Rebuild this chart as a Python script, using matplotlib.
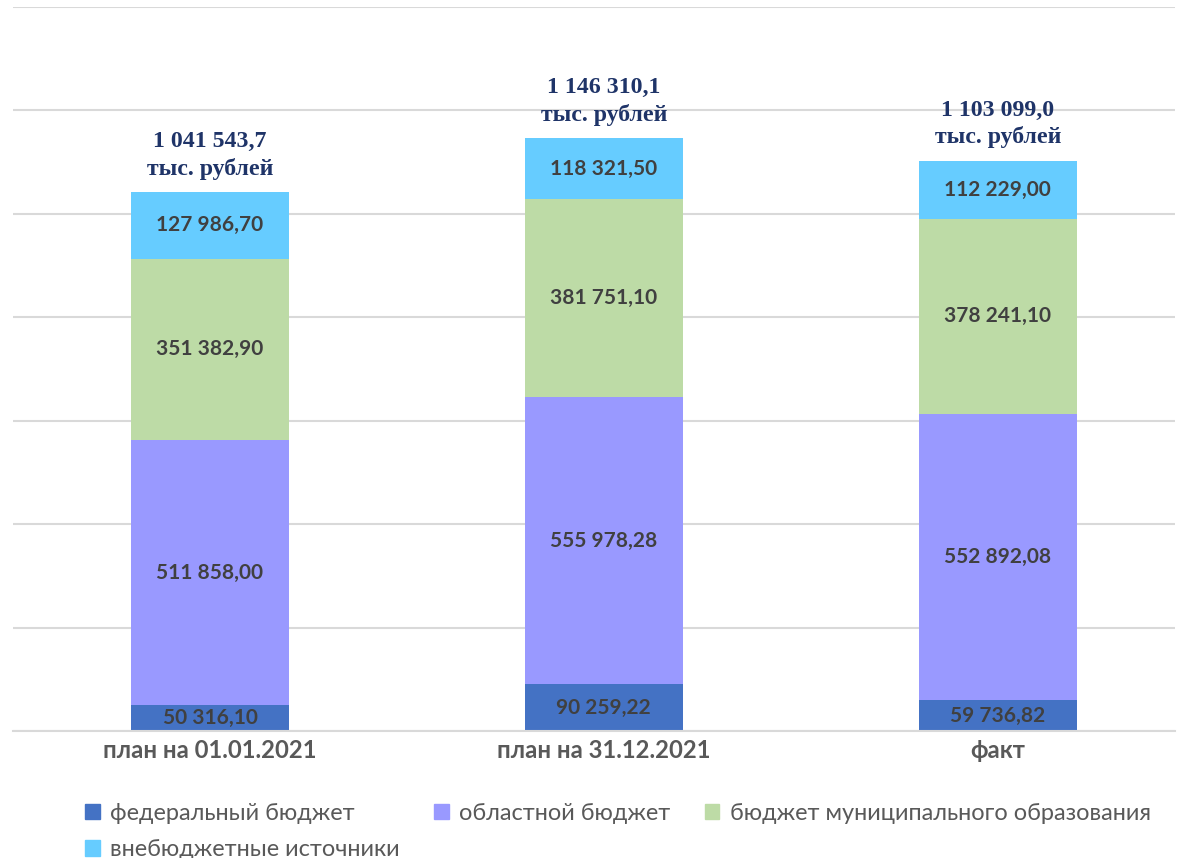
import matplotlib.pyplot as plt
from matplotlib.patches import Patch

categories = ["план на 01.01.2021", "план на 31.12.2021", "факт"]
federal = [50316.10, 90259.22, 59736.82]
oblast = [511858.00, 555978.28, 552892.08]
municipal = [351382.90, 381751.10, 378241.10]
offbudget = [127986.70, 118321.50, 112229.00]
totals = ["1 041 543,7", "1 146 310,1", "1 103 099,0"]

series_names = ["федеральный бюджет", "областной бюджет",
                "бюджет муниципального образования", "внебюджетные источники"]
series_values = [federal, oblast, municipal, offbudget]
colors = ["#4472C4", "#9999FF", "#BDDBA6", "#66CCFF"]

def fmt(v):
    s = f"{v:,.2f}"
    return s.replace(",", " ").replace(".", ",")

fig = plt.figure(figsize=(11.85, 8.58), dpi=100)
ax = fig.add_axes([13 / 1185, 127 / 858, 1162 / 1185, 1 - 7 / 858 - 127 / 858])

x = list(range(len(categories)))
bottom = [0, 0, 0]
for name, vals, col in zip(series_names, series_values, colors):
    ax.bar(x, vals, 0.40, bottom=bottom, color=col, zorder=2)
    for i, v in enumerate(vals):
        ax.text(x[i], bottom[i] + v / 2, fmt(v), ha="center", va="center",
                fontsize=15, fontweight="bold", color="#404040",
                family="Lato", zorder=3)
    bottom = [b + v for b, v in zip(bottom, vals)]

# итоговые суммы над столбцами
for i, t in enumerate(totals):
    ax.annotate(t + "\nтыс. рублей", (x[i], bottom[i]), xytext=(0, 9),
                textcoords="offset points", ha="center", va="bottom",
                fontsize=17.2, fontweight="bold", color="#1F3468",
                family="Liberation Serif", linespacing=1.32)

ax.set_ylim(0, 1400000)
ax.set_xlim(-0.5, 2.45)
ax.set_yticks(range(0, 1400001, 200000))
ax.yaxis.grid(True, color="#D9D9D9", linewidth=1.5, zorder=0)
ax.set_yticklabels([])
ax.tick_params(axis="y", length=0)
ax.tick_params(axis="x", length=0, pad=6)
ax.set_xticks(x)
ax.set_xticklabels(categories, fontsize=17.2, fontweight="bold",
                   color="#595959", family="Lato")
for s in ["top", "left", "right"]:
    ax.spines[s].set_visible(False)
ax.spines["bottom"].set_color("#D9D9D9")
ax.spines["bottom"].set_linewidth(1.5)

handles = [Patch(color=c) for c in colors]
order = [0, 3, 1, 2]
fig.legend([handles[k] for k in order], [series_names[k] for k in order],
           loc="upper left", bbox_to_anchor=(85 / 1185, 1 - 803 / 858),
           ncol=3, frameon=False, handlelength=0.63, handleheight=0.63,
           handletextpad=0.45, columnspacing=1.45, labelspacing=0.65,
           borderpad=0, borderaxespad=0, prop={"family": "Lato", "size": 16.9},
           labelcolor="#595959")

plt.savefig("out.png", dpi=100)
